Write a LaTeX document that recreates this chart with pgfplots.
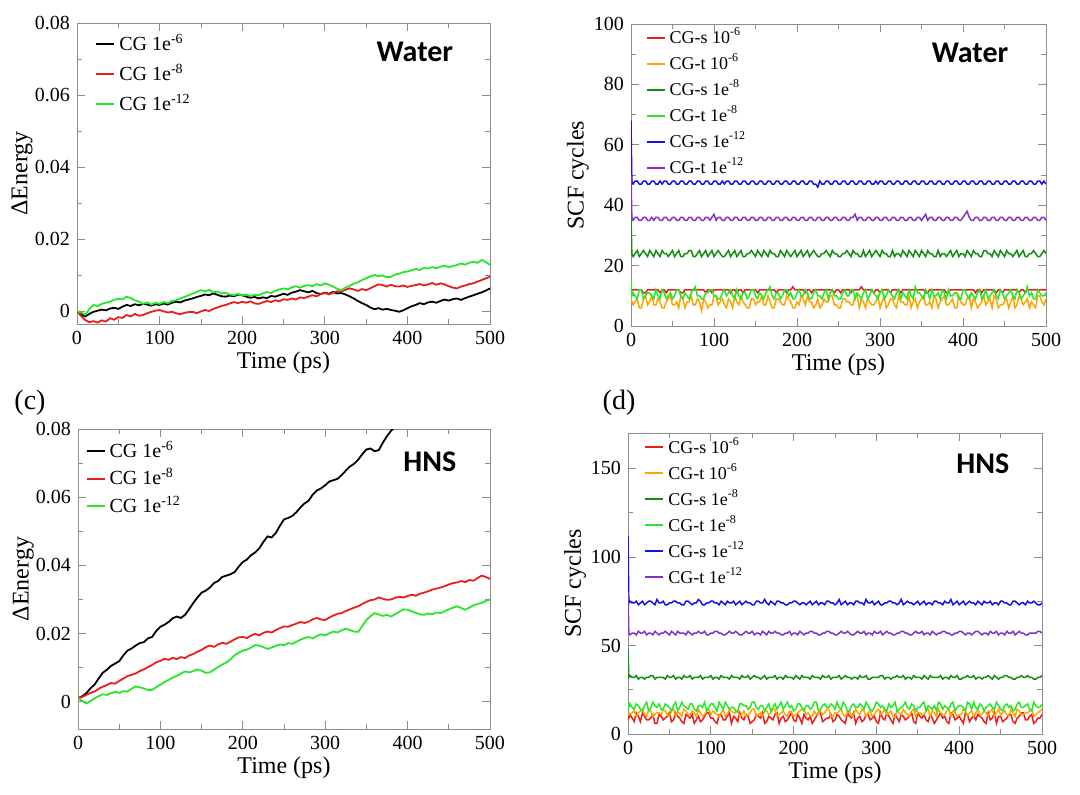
\documentclass[border=0pt]{standalone}
\usepackage{fontspec}
\setmainfont{Liberation Serif}
\newfontfamily\carlito{Carlito}
\usepackage{pgfplots}
\usepackage{pgfplotstable}
\pgfplotsset{compat=1.18}

\definecolor{gRed}{RGB}{235,30,30}
\definecolor{gOrange}{RGB}{255,165,0}
\definecolor{gDkGreen}{RGB}{20,140,20}
\definecolor{gGreen}{RGB}{40,230,40}
\definecolor{gBlue}{RGB}{20,20,230}
\definecolor{gPurple}{RGB}{130,50,200}

% Delta energy, water
\pgfplotstableread{
t k r g
0 0.0000 0.0000 0.0000
5 -0.0009 -0.0014 -0.0004
10 -0.0015 -0.0025 -0.0010
15 -0.0008 -0.0031 0.0006
20 -0.0002 -0.0028 0.0017
25 0.0001 -0.0032 0.0014
30 0.0004 -0.0026 0.0020
35 0.0002 -0.0029 0.0023
40 0.0007 -0.0020 0.0026
45 0.0009 -0.0024 0.0031
50 0.0006 -0.0017 0.0034
55 0.0012 -0.0019 0.0032
60 0.0017 -0.0011 0.0040
65 0.0014 -0.0015 0.0036
70 0.0019 -0.0008 0.0030
75 0.0016 -0.0013 0.0026
80 0.0020 -0.0011 0.0020
85 0.0018 -0.0006 0.0024
90 0.0015 -0.0002 0.0018
95 0.0019 0.0001 0.0023
100 0.0017 0.0003 0.0020
105 0.0021 -0.0001 0.0025
110 0.0018 -0.0004 0.0022
115 0.0023 -0.0002 0.0028
120 0.0026 -0.0006 0.0030
125 0.0024 -0.0009 0.0035
130 0.0029 -0.0005 0.0039
135 0.0032 -0.0003 0.0044
140 0.0035 -0.0002 0.0048
145 0.0039 -0.0006 0.0053
150 0.0042 -0.0001 0.0058
155 0.0046 0.0003 0.0055
160 0.0044 0.0000 0.0059
165 0.0049 0.0006 0.0052
170 0.0045 0.0010 0.0054
175 0.0041 0.0014 0.0049
180 0.0040 0.0017 0.0051
185 0.0043 0.0021 0.0046
190 0.0041 0.0025 0.0044
195 0.0046 0.0022 0.0048
200 0.0044 0.0026 0.0043
205 0.0040 0.0023 0.0046
210 0.0037 0.0027 0.0041
215 0.0039 0.0021 0.0045
220 0.0035 0.0020 0.0044
225 0.0038 0.0024 0.0049
230 0.0036 0.0028 0.0053
235 0.0042 0.0025 0.0050
240 0.0040 0.0030 0.0056
245 0.0044 0.0027 0.0060
250 0.0048 0.0033 0.0063
255 0.0045 0.0031 0.0060
260 0.0051 0.0035 0.0066
265 0.0054 0.0032 0.0069
270 0.0058 0.0038 0.0065
275 0.0055 0.0036 0.0070
280 0.0052 0.0040 0.0072
285 0.0056 0.0044 0.0069
290 0.0050 0.0041 0.0075
295 0.0047 0.0047 0.0071
300 0.0051 0.0050 0.0077
305 0.0048 0.0046 0.0073
310 0.0053 0.0051 0.0068
315 0.0049 0.0055 0.0062
320 0.0050 0.0054 0.0058
325 0.0046 0.0059 0.0065
330 0.0041 0.0063 0.0070
335 0.0035 0.0060 0.0076
340 0.0028 0.0056 0.0080
345 0.0022 0.0061 0.0086
350 0.0017 0.0058 0.0091
355 0.0010 0.0063 0.0096
360 0.0005 0.0069 0.0100
365 0.0008 0.0074 0.0097
370 0.0004 0.0072 0.0099
375 0.0006 0.0068 0.0094
380 0.0003 0.0073 0.0095
385 0.0001 0.0069 0.0101
390 -0.0002 0.0068 0.0104
395 0.0002 0.0071 0.0108
400 0.0008 0.0067 0.0110
405 0.0013 0.0070 0.0113
410 0.0017 0.0072 0.0117
415 0.0022 0.0075 0.0114
420 0.0019 0.0071 0.0120
425 0.0024 0.0074 0.0118
430 0.0026 0.0078 0.0122
435 0.0023 0.0073 0.0119
440 0.0028 0.0077 0.0123
445 0.0032 0.0074 0.0126
450 0.0029 0.0069 0.0122
455 0.0033 0.0065 0.0125
460 0.0035 0.0063 0.0128
465 0.0031 0.0068 0.0132
470 0.0036 0.0071 0.0129
475 0.0040 0.0075 0.0134
480 0.0044 0.0077 0.0137
485 0.0048 0.0082 0.0134
490 0.0052 0.0086 0.0142
495 0.0057 0.0091 0.0136
500 0.0063 0.0095 0.0128
}\tabA

% Delta energy, HNS
\pgfplotstableread{
t k r g
0 0.0010 0.0010 0.0010
5 0.0016 0.0014 0.0003
10 0.0025 0.0020 -0.0005
15 0.0039 0.0026 0.0002
20 0.0050 0.0030 0.0010
25 0.0068 0.0038 0.0016
30 0.0085 0.0044 0.0022
35 0.0094 0.0049 0.0020
40 0.0105 0.0055 0.0025
45 0.0112 0.0053 0.0029
50 0.0119 0.0061 0.0026
55 0.0136 0.0068 0.0031
60 0.0150 0.0075 0.0030
65 0.0156 0.0079 0.0038
70 0.0165 0.0083 0.0045
75 0.0172 0.0090 0.0042
80 0.0175 0.0095 0.0039
85 0.0186 0.0102 0.0034
90 0.0190 0.0108 0.0035
95 0.0208 0.0116 0.0043
100 0.0220 0.0120 0.0050
105 0.0226 0.0126 0.0058
110 0.0234 0.0123 0.0064
115 0.0245 0.0129 0.0071
120 0.0250 0.0125 0.0076
125 0.0246 0.0131 0.0083
130 0.0255 0.0128 0.0089
135 0.0272 0.0136 0.0086
140 0.0290 0.0140 0.0090
145 0.0306 0.0147 0.0095
150 0.0320 0.0152 0.0091
155 0.0326 0.0160 0.0085
160 0.0335 0.0165 0.0086
165 0.0348 0.0161 0.0094
170 0.0354 0.0168 0.0102
175 0.0366 0.0173 0.0109
180 0.0370 0.0170 0.0115
185 0.0374 0.0176 0.0124
190 0.0380 0.0183 0.0136
195 0.0396 0.0189 0.0144
200 0.0410 0.0190 0.0150
205 0.0417 0.0187 0.0153
210 0.0430 0.0194 0.0159
215 0.0438 0.0199 0.0166
220 0.0450 0.0195 0.0165
225 0.0469 0.0202 0.0160
230 0.0485 0.0206 0.0155
235 0.0482 0.0203 0.0159
240 0.0495 0.0210 0.0164
245 0.0516 0.0216 0.0168
250 0.0535 0.0221 0.0166
255 0.0539 0.0220 0.0172
260 0.0545 0.0225 0.0170
265 0.0556 0.0229 0.0176
270 0.0570 0.0234 0.0182
275 0.0582 0.0231 0.0187
280 0.0590 0.0235 0.0190
285 0.0608 0.0242 0.0186
290 0.0620 0.0246 0.0193
295 0.0626 0.0241 0.0198
300 0.0635 0.0240 0.0195
305 0.0646 0.0247 0.0201
310 0.0650 0.0253 0.0206
315 0.0654 0.0258 0.0203
320 0.0665 0.0260 0.0210
325 0.0678 0.0266 0.0214
330 0.0690 0.0271 0.0210
335 0.0698 0.0276 0.0206
340 0.0710 0.0280 0.0205
345 0.0726 0.0287 0.0222
350 0.0740 0.0293 0.0240
355 0.0743 0.0298 0.0251
360 0.0735 0.0300 0.0260
365 0.0738 0.0306 0.0256
370 0.0760 0.0302 0.0252
375 0.0779 0.0299 0.0255
380 0.0795 0.0300 0.0250
385 0.0806 0.0305 0.0257
390 0.0815 0.0308 0.0264
395 nan 0.0306 0.0271
400 nan 0.0310 0.0270
405 nan 0.0314 0.0265
410 nan 0.0311 0.0261
415 nan 0.0317 0.0256
420 nan 0.0320 0.0255
425 nan 0.0324 0.0259
430 nan 0.0329 0.0257
435 nan 0.0332 0.0262
440 nan 0.0335 0.0260
445 nan 0.0339 0.0266
450 nan 0.0344 0.0271
455 nan 0.0348 0.0276
460 nan 0.0350 0.0280
465 nan 0.0354 0.0275
470 nan 0.0351 0.0270
475 nan 0.0357 0.0276
480 nan 0.0355 0.0283
485 nan 0.0363 0.0287
490 nan 0.0370 0.0290
495 nan 0.0366 0.0296
500 nan 0.0360 0.0300
}\tabC

% SCF cycles, water
\pgfplotstableread{
t s6 t6 s8 t8 s12 t12
0 12 9 36 15 68 50
1 12 8 24 10 48 36
2.5 12 7 23 11 47 35
5 12 8 24 10 48 36
7.5 12 9 25 9 48 36
10 12 6 23 12 47 35
12.5 12 6 24 12 47 35
15 11 9 25 9 48 36
17.5 11 10 24 10 48 36
20 12 7 23 11 47 35
22.5 12 8 25 11 47 35
25 12 10 24 10 48 36
27.5 12 7 23 9 48 35
30 12 7 25 12 47 36
32.5 12 9 24 10 47 36
35 11 8 23 9 48 35
37.5 12 6 25 12 47 35
40 12 6 24 11 48 36
42.5 11 8 24 9 48 36
45 12 9 23 10 47 35
47.5 12 10 24 11 47 35
50 12 7 25 9 48 36
52.5 12 7 23 10 48 36
55 12 8 24 12 47 35
57.5 12 6 25 12 47 35
60 11 10 23 10 48 36
62.5 11 9 23 9 48 36
65 12 6 24 11 47 35
67.5 12 8 24 10 47 35
70 12 8 25 9 48 36
72.5 12 10 25 11 48 36
75 12 7 23 12 47 35
77.5 12 7 23 13 47 35
80 12 9 24 10 48 36
82.5 12 8 25 10 48 36
85 12 5 23 9 47 35
87.5 12 9 24 9 47 35
90 11 8 25 11 48 36
92.5 12 6 23 11 48 36
95 12 7 24 12 47 35
97.5 11 7 25 12 47 36
100 12 10 23 10 48 37
102.5 12 10 24 10 48 35
105 12 7 25 9 47 36
107.5 12 8 24 9 47 36
110 12 9 23 11 48 35
112.5 12 7 23 12 47 35
115 12 6 24 10 48 36
117.5 12 9 25 11 48 36
120 11 8 23 12 47 35
122.5 12 6 24 10 47 35
125 12 10 25 9 48 36
127.5 11 8 23 12 48 36
130 12 7 24 10 47 35
132.5 12 10 25 9 47 35
135 11 8 23 11 48 36
137.5 12 7 23 11 48 36
140 12 6 24 9 47 35
142.5 12 6 24 10 47 35
145 12 9 25 12 48 36
147.5 12 9 24 12 48 36
150 12 7 23 10 47 35
152.5 11 8 25 9 47 35
155 12 8 24 11 48 36
157.5 12 10 23 10 48 36
160 12 7 25 9 47 35
162.5 12 7 24 11 47 35
165 12 10 23 12 48 36
167.5 12 8 25 13 48 36
170 12 6 24 10 47 35
172.5 12 6 24 9 47 35
175 11 9 23 11 48 36
177.5 12 9 23 11 48 36
180 12 8 25 9 47 35
182.5 12 7 24 10 47 35
185 12 7 23 12 48 36
187.5 11 10 25 12 48 36
190 12 9 24 10 47 35
192.5 12 8 23 11 47 35
195 13 6 24 9 48 36
197.5 12 6 25 9 48 36
200 12 8 23 11 47 35
202.5 12 7 24 12 47 35
205 12 10 25 10 48 36
207.5 12 9 23 10 48 36
210 11 7 24 12 47 35
212.5 12 10 25 11 47 35
215 12 8 23 9 48 36
217.5 11 8 24 9 48 36
220 12 6 25 11 47 35
222.5 12 7 24 12 47 35
225 12 9 23 10 46 36
227.5 12 6 23 10 48 36
230 12 7 24 9 47 35
232.5 12 9 24 11 47 35
235 12 8 25 12 48 36
237.5 12 8 24 9 48 36
240 12 10 23 11 47 35
242.5 12 10 25 12 47 35
245 11 7 24 10 48 36
247.5 12 7 24 10 48 36
250 12 6 23 9 47 35
252.5 11 6 23 9 47 35
255 12 9 24 11 48 36
257.5 12 9 24 12 48 36
260 12 8 25 10 47 35
262.5 12 8 24 10 47 35
265 11 7 23 12 48 36
267.5 12 7 25 12 48 36
270 12 10 24 9 47 37
272.5 12 10 24 11 47 35
275 12 6 23 10 48 36
277.5 13 9 23 9 48 36
280 12 8 25 11 47 35
282.5 12 6 23 12 47 35
285 12 9 24 9 48 36
287.5 12 8 25 10 48 36
290 12 7 23 12 47 35
292.5 11 7 24 11 47 35
295 12 8 25 10 48 36
297.5 12 10 24 9 47 36
300 11 6 23 11 48 35
302.5 12 8 25 12 48 35
305 12 10 24 9 47 36
307.5 12 6 24 10 47 36
310 12 7 23 12 48 35
312.5 11 9 23 11 48 35
315 12 9 25 10 47 36
317.5 12 7 23 9 47 36
320 12 6 24 11 48 35
322.5 12 10 24 12 48 35
325 11 8 23 9 47 36
327.5 12 8 25 11 47 36
330 12 7 24 10 48 35
332.5 12 7 23 9 48 35
335 12 10 25 12 47 36
337.5 12 6 24 10 47 36
340 12 8 23 9 48 35
342.5 12 9 25 13 48 35
345 12 6 24 11 47 36
347.5 12 8 23 11 47 36
350 12 9 25 10 48 35
352.5 12 10 24 9 48 36
355 11 7 23 12 47 37
357.5 11 7 25 11 47 35
360 12 8 24 9 48 36
362.5 12 6 24 12 48 36
365 12 10 23 10 47 35
367.5 12 9 23 10 47 35
370 12 6 25 11 48 36
372.5 12 8 23 9 48 36
375 12 9 24 12 47 35
377.5 12 10 24 11 47 35
380 11 7 23 9 48 36
382.5 11 7 24 12 48 36
385 12 8 25 10 47 35
387.5 12 9 23 10 47 35
390 12 6 24 11 48 36
392.5 12 6 25 11 48 36
395 12 10 23 9 47 35
397.5 12 8 24 9 47 35
400 12 7 24 12 48 36
402.5 12 7 23 12 48 37
405 12 9 25 10 47 38
407.5 12 10 24 9 47 36
410 12 6 23 11 48 35
412.5 12 9 25 10 48 35
415 11 8 24 9 47 36
417.5 12 6 24 11 47 36
420 12 7 23 12 48 35
422.5 11 8 23 9 48 35
425 12 10 25 10 47 36
427.5 12 7 25 12 47 36
430 12 8 24 9 48 35
432.5 12 9 24 10 48 35
435 12 6 23 11 47 36
437.5 12 10 25 12 47 36
440 11 9 24 10 48 35
442.5 12 6 23 9 48 35
445 12 7 25 12 47 36
447.5 11 7 24 11 47 36
450 12 8 23 9 48 35
452.5 12 9 25 10 48 35
455 12 6 24 11 47 36
457.5 12 8 24 12 47 36
460 12 10 23 10 48 35
462.5 12 6 24 9 48 35
465 12 7 25 12 47 36
467.5 11 10 23 11 47 36
470 12 9 24 9 48 35
472.5 12 7 25 10 48 35
475 11 8 23 11 47 36
477.5 12 9 23 13 47 36
480 12 6 24 10 48 35
482.5 12 8 24 11 48 35
485 12 7 25 9 47 36
487.5 12 6 24 9 47 36
490 12 10 23 12 48 35
492.5 12 10 23 11 48 35
495 12 8 24 10 47 36
497.5 12 7 25 10 48 36
500 12 9 24 11 47 35
}\tabB

% SCF cycles, HNS
\pgfplotstableread{
t s6 t6 s8 t8 s12 t12
0 10 12 48 20 112 80
1 9 12 32 15 74 57
2.5 11 11 33 17 75 56
5 9 12 32 15 74 57
7.5 7 13 32 14 74 57
10 12 10 33 17 75 56
12.5 10 12 31 16 73 58
15 7 13 32 14 74 57
17.5 12 14 32 13 75 57
20 10 11 31 16 73 58
22.5 8 10 32 18 74 56
25 8 14 32 13 75 57
27.5 9 13 33 15 75 57
30 11 10 33 18 74 56
32.5 6 11 31 16 73 58
35 6 12 32 15 76 57
37.5 11 12 32 17 74 56
40 10 11 32 14 74 57
42.5 8 14 32 14 75 57
45 9 13 31 17 73 58
47.5 10 11 33 16 73 57
50 12 10 32 15 74 56
52.5 7 13 32 13 74 58
55 8 14 33 16 75 57
57.5 12 10 31 18 75 56
60 10 12 32 13 74 58
62.5 9 12 32 15 74 57
65 7 10 31 18 73 57
67.5 6 14 33 16 73 57
70 11 13 32 15 75 56
72.5 10 11 32 14 75 58
75 9 11 33 17 74 57
77.5 11 13 31 17 73 56
80 6 12 32 14 74 57
82.5 8 10 32 13 74 57
85 10 14 32 16 76 58
87.5 7 12 33 16 75 57
90 8 10 31 15 73 57
92.5 10 11 32 18 73 58
95 12 13 32 13 74 56
97.5 12 14 32 15 74 56
100 9 11 33 17 75 57
102.5 9 13 31 17 75 57
105 7 12 32 15 74 58
107.5 6 11 32 13 74 58
110 11 10 31 18 73 57
112.5 11 12 33 16 75 57
115 8 14 32 14 74 56
117.5 8 10 32 18 73 56
120 10 11 32 16 75 57
122.5 12 14 31 14 74 58
125 6 13 33 15 74 57
127.5 10 12 32 15 75 57
130 9 12 32 13 73 58
132.5 7 13 32 13 74 57
135 12 10 31 17 75 56
137.5 9 11 33 17 73 56
140 8 13 32 16 74 57
142.5 11 10 32 16 75 58
145 10 11 33 14 74 57
147.5 6 12 31 15 74 57
150 7 14 32 18 73 58
152.5 8 14 33 18 73 56
155 11 10 32 15 75 57
157.5 10 11 32 14 75 57
160 9 12 31 16 74 56
162.5 12 10 32 16 74 58
165 6 13 33 13 76 57
167.5 7 13 31 15 74 56
170 10 11 32 17 73 58
172.5 9 12 32 13 75 57
175 8 14 32 15 74 57
177.5 11 14 33 17 73 58
180 12 10 31 14 75 57
182.5 6 11 32 16 75 57
185 9 12 32 18 74 56
187.5 10 13 31 14 74 56
190 7 11 33 16 73 57
192.5 8 10 32 18 73 57
195 10 13 32 15 74 58
197.5 12 12 32 16 74 56
200 8 10 31 13 75 57
202.5 7 11 33 14 75 57
205 11 12 32 17 74 56
207.5 9 13 31 17 73 58
210 6 14 33 15 74 57
212.5 11 14 32 13 74 56
215 9 11 32 16 73 57
217.5 8 12 32 16 74 57
220 10 10 31 14 75 58
222.5 6 10 33 15 73 58
225 8 13 32 18 74 57
227.5 10 11 32 18 75 57
230 12 12 32 13 73 56
232.5 12 13 31 14 74 56
235 7 11 33 16 74 57
237.5 8 12 32 17 73 57
240 9 14 32 15 75 58
242.5 9 14 33 15 75 58
245 11 10 31 17 74 57
247.5 7 10 32 16 74 57
250 8 12 32 14 73 56
252.5 11 12 32 18 74 56
255 10 13 33 15 76 57
257.5 8 14 31 14 73 58
260 7 11 32 18 74 57
262.5 6 10 33 16 75 57
265 12 12 32 13 73 58
267.5 10 13 32 13 74 57
270 9 10 31 16 74 56
272.5 12 11 32 17 73 56
275 6 14 32 15 75 57
277.5 9 12 31 15 75 58
280 10 11 33 17 74 57
282.5 7 14 32 16 74 57
285 8 13 32 14 73 58
287.5 11 10 33 18 76 56
290 11 12 31 16 74 57
292.5 8 13 31 14 74 57
295 9 10 32 13 75 56
297.5 10 11 32 15 73 58
300 7 13 32 18 74 57
302.5 6 14 32 17 75 57
305 12 11 33 15 73 58
307.5 9 12 33 16 73 56
310 8 14 31 14 74 57
312.5 12 11 32 13 74 58
315 10 12 32 17 75 57
317.5 8 13 31 15 75 57
320 6 10 32 16 74 56
322.5 11 10 32 18 74 56
325 9 13 33 13 73 57
327.5 7 12 32 14 74 57
330 11 11 32 15 76 58
332.5 10 14 33 16 73 58
335 8 12 31 18 74 57
337.5 9 11 32 15 75 57
340 10 10 32 14 74 56
342.5 12 13 31 17 74 56
345 7 14 33 16 73 57
347.5 6 10 32 13 74 58
350 12 12 32 15 75 57
352.5 10 12 32 15 73 57
355 9 11 31 17 74 58
357.5 11 11 33 18 75 56
360 8 13 32 13 73 57
362.5 7 14 31 16 74 57
365 11 10 33 15 74 56
367.5 9 13 32 14 73 58
370 6 12 32 16 75 57
372.5 8 10 32 13 75 56
375 10 14 32 18 74 57
377.5 12 12 33 17 74 57
380 9 11 31 14 73 58
382.5 10 11 32 16 75 58
385 7 13 32 15 74 57
387.5 6 14 31 14 74 57
390 12 10 33 17 76 56
392.5 11 13 32 18 73 56
395 8 12 32 13 74 57
397.5 9 10 33 15 75 57
400 10 11 31 16 73 58
402.5 8 11 31 16 74 58
405 6 14 32 15 75 57
407.5 12 13 32 13 73 56
410 11 10 33 18 74 57
412.5 7 12 32 17 75 57
415 9 13 32 14 74 56
417.5 10 10 33 18 74 57
420 8 12 31 15 73 58
422.5 11 14 32 14 75 58
425 10 11 32 17 74 57
427.5 9 11 31 16 73 56
430 7 13 32 13 75 57
432.5 6 12 32 15 74 57
435 12 10 33 16 74 56
437.5 8 13 32 17 75 58
440 9 14 31 15 73 57
442.5 12 10 33 14 74 57
445 6 12 32 18 74 58
447.5 10 14 31 16 73 56
450 10 11 32 14 75 57
452.5 7 12 32 13 75 57
455 8 13 33 16 74 56
457.5 9 11 33 17 74 58
460 11 10 32 15 73 57
462.5 11 14 32 16 73 57
465 7 12 31 13 75 58
467.5 6 10 31 14 75 56
470 9 14 32 17 74 57
472.5 10 13 32 18 73 58
475 12 11 33 15 74 57
477.5 12 11 32 15 74 57
480 8 12 32 16 73 56
482.5 8 12 33 17 75 56
485 10 13 32 14 74 57
487.5 11 14 32 13 74 57
490 6 10 31 18 75 57
492.5 7 11 31 16 74 57
495 9 12 32 15 73 58
497.5 9 13 32 15 73 58
500 11 14 33 17 74 57
}\tabD

\tikzset{hfont/.style={font=\carlito\bfseries\fontsize{15}{15}\selectfont}}

\pgfplotsset{
  grace/.style={
    scale only axis,
    anchor=south west,
    xmin=0, xmax=500,
    xtick={0,100,200,300,400,500},
    minor x tick num=1, minor y tick num=1,
    tick align=inside,
    major tick length=4pt, minor tick length=2.5pt,
    axis line style={black!45},
    every tick/.style={black!45},
    tick label style={font=\fontsize{10}{11}\selectfont, text=black},
    /pgf/number format/assume math mode=true,
    label style={font=\fontsize{12}{13}\selectfont},
    xlabel={Time (ps)},
    xlabel style={at={(axis description cs:0.5,-0.128)}, anchor=center},
    legend cell align=left,
    legend style={draw=none, fill=none, anchor=north west,
      font=\fontsize{9}{10}\selectfont, row sep=3pt, column sep=2pt,
      nodes={inner sep=0pt, text height=8pt, text depth=2pt}},
    legend image code/.code={\draw[#1, line width=1pt] (0pt,0pt) -- (9pt,0pt);},
    every axis plot/.append style={line width=0.75pt},
  },
  energy/.style={
    ymax=0.08,
    ytick={0,0.02,0.04,0.06,0.08},
    scaled y ticks=false,
    yticklabel style={/pgf/number format/fixed, /pgf/number format/precision=2},
    ylabel={ΔEnergy},
    ylabel style={at={(axis description cs:-0.133,0.5)}, anchor=center},
    every axis plot/.append style={line width=0.9pt},
  },
  scf/.style={
    ymin=0,
    ylabel={SCF cycles},
    ylabel style={at={(axis description cs:-0.128,0.5)}, anchor=center},
  },
}

\begin{document}
\begin{tikzpicture}
\useasboundingbox (0,0) rectangle (540pt,-397pt);

% (a) water, energy
\begin{axis}[grace, energy, at={(38.5pt,-162pt)}, width=206.5pt, height=150.5pt,
    ymin=-0.0036,
    legend style={at={(rel axis cs:0.029,0.98)}, font=\fontsize{10}{11}\selectfont,
      row sep=4pt, nodes={text height=8.5pt, text depth=2.5pt}}]
  \addplot[black] table[x=t, y=k] {\tabA};
  \addplot[gRed] table[x=t, y=r] {\tabA};
  \addplot[gGreen] table[x=t, y=g] {\tabA};
  \legend{CG 1e\textsuperscript{-6}, CG 1e\textsuperscript{-8}, CG 1e\textsuperscript{-12}}
  \node[hfont] at (rel axis cs:0.818,0.904) {Water};
\end{axis}

% (b) water, SCF cycles
\begin{axis}[grace, scf, at={(315.5pt,-163pt)}, width=207.5pt, height=151pt,
    ymax=100, ytick={0,20,40,60,80,100},
    legend style={at={(rel axis cs:0.02,1.003)}}]
  \addplot[gRed] table[x=t, y=s6] {\tabB};
  \addplot[gOrange] table[x=t, y=t6] {\tabB};
  \addplot[gDkGreen] table[x=t, y=s8] {\tabB};
  \addplot[gGreen] table[x=t, y=t8] {\tabB};
  \addplot[gBlue] table[x=t, y=s12] {\tabB};
  \addplot[gPurple] table[x=t, y=t12] {\tabB};
  \legend{CG-s 10\textsuperscript{-6}, CG-t 10\textsuperscript{-6}, CG-s 1e\textsuperscript{-8},
    CG-t 1e\textsuperscript{-8}, CG-s 1e\textsuperscript{-12}, CG-t 1e\textsuperscript{-12}}
  \node[hfont] at (rel axis cs:0.817,0.904) {Water};
\end{axis}

% (c) HNS, energy
\begin{axis}[grace, energy, at={(39pt,-364.5pt)}, width=206pt, height=150pt,
    ymin=-0.008,
    legend style={at={(rel axis cs:0.003,0.977)}, font=\fontsize{10}{11}\selectfont,
      row sep=2.75pt, nodes={text height=8.5pt, text depth=2.5pt}}]
  \addplot[black] table[x=t, y=k] {\tabC};
  \addplot[gRed] table[x=t, y=r] {\tabC};
  \addplot[gGreen] table[x=t, y=g] {\tabC};
  \legend{CG 1e\textsuperscript{-6}, CG 1e\textsuperscript{-8}, CG 1e\textsuperscript{-12}}
  \node[hfont] at (rel axis cs:0.854,0.89) {HNS};
\end{axis}

% (d) HNS, SCF cycles
\begin{axis}[grace, scf, at={(314pt,-367pt)}, width=207pt, height=150.5pt,
    ymax=170, ytick={0,50,100,150},
    legend style={at={(rel axis cs:0.024,1.0)}}]
  \addplot[gRed] table[x=t, y=s6] {\tabD};
  \addplot[gOrange] table[x=t, y=t6] {\tabD};
  \addplot[gDkGreen] table[x=t, y=s8] {\tabD};
  \addplot[gGreen] table[x=t, y=t8] {\tabD};
  \addplot[gBlue] table[x=t, y=s12] {\tabD};
  \addplot[gPurple] table[x=t, y=t12] {\tabD};
  \legend{CG-s 10\textsuperscript{-6}, CG-t 10\textsuperscript{-6}, CG-s 1e\textsuperscript{-8},
    CG-t 1e\textsuperscript{-8}, CG-s 1e\textsuperscript{-12}, CG-t 1e\textsuperscript{-12}}
  \node[hfont] at (rel axis cs:0.857,0.897) {HNS};
\end{axis}

\node[font=\fontsize{14}{14}\selectfont] at (15pt,-201.5pt) {(c)};
\node[font=\fontsize{14}{14}\selectfont] at (309.5pt,-201.5pt) {(d)};
\end{tikzpicture}
\end{document}
